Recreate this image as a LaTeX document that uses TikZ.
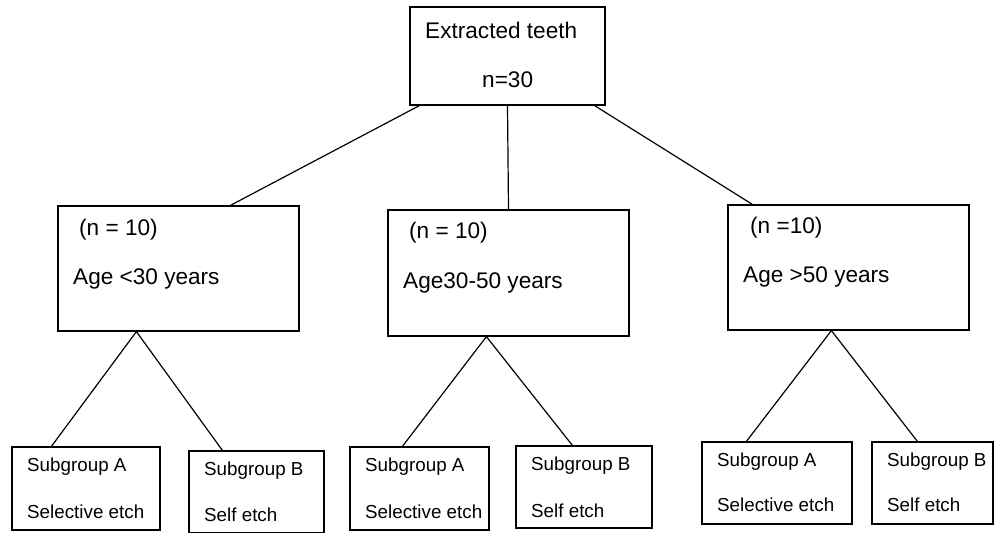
\documentclass[tikz,border=0pt]{standalone}
\usepackage{fontspec}
\setmainfont{Liberation Sans}

\begin{document}
\begin{tikzpicture}[x=1pt,y=-1pt]
	\useasboundingbox (0,0) rectangle (997,533);
	\tikzstyle{BoxStyle}=[draw,line width=1.2pt,inner sep=0pt]
	\tikzstyle{BigText}=[anchor=west,inner sep=0pt,font=\fontsize{22.6}{27}\selectfont]
	\tikzstyle{SmallText}=[anchor=west,inner sep=0pt,font=\fontsize{18.8}{22}\selectfont]
	\tikzstyle{EdgeStyle}=[line width=1.2pt]
	\node[BoxStyle,minimum width=195pt,minimum height=98pt] (Top) at (507.5,56) {};
	\node[BoxStyle,minimum width=241pt,minimum height=125pt] (L) at (178.5,268.5) {};
	\node[BoxStyle,minimum width=241pt,minimum height=126pt] (M) at (508.5,273) {};
	\node[BoxStyle,minimum width=241pt,minimum height=125pt] (R) at (848.5,267.5) {};
	\node[BoxStyle,minimum width=148pt,minimum height=83pt] (LA) at (86,488.5) {};
	\node[BoxStyle,minimum width=135pt,minimum height=82pt] (LB) at (256.5,492) {};
	\node[BoxStyle,minimum width=139pt,minimum height=83pt] (MA) at (419.5,488.5) {};
	\node[BoxStyle,minimum width=136pt,minimum height=82pt] (MB) at (584,487) {};
	\node[BoxStyle,minimum width=150pt,minimum height=82pt] (RA) at (777,483) {};
	\node[BoxStyle,minimum width=121pt,minimum height=82pt] (RB) at (932.5,483) {};
	\node[BigText] (Top1) at (425,30) {Extracted teeth};
	\node[BigText] (Top2) at (482,80) {n=30};
	\node[BigText] (L1) at (79,230) {(n = 10)};
	\node[BigText] (L2) at (73,279) {Age <30 years};
	\node[BigText] (M1) at (409,233) {(n = 10)};
	\node[BigText] (M2) at (403,283) {Age30-50 years};
	\node[BigText] (R1) at (750,228) {(n =10)};
	\node[BigText] (R2) at (743,277) {Age >50 years};
	\node[SmallText] (LA1) at (27,467) {Subgroup A};
	\node[SmallText] (LA2) at (27,512) {Selective etch};
	\node[SmallText] (LB1) at (204,471) {Subgroup B};
	\node[SmallText] (LB2) at (204,515) {Self etch};
	\node[SmallText] (MA1) at (365,467) {Subgroup A};
	\node[SmallText] (MA2) at (365,512) {Selective etch};
	\node[SmallText] (MB1) at (531,466) {Subgroup B};
	\node[SmallText] (MB2) at (531,511) {Self etch};
	\node[SmallText] (RA1) at (717,462) {Subgroup A};
	\node[SmallText] (RA2) at (717,505) {Selective etch};
	\node[SmallText] (RB1) at (887,462) {Subgroup B};
	\node[SmallText] (RB2) at (887,505) {Self etch};
	\draw[EdgeStyle] ([xshift=10pt]Top.south west) -- ([xshift=173pt]L.north west);
	\draw[EdgeStyle] (Top.south) -- (M.north);
	\draw[EdgeStyle] ([xshift=-11pt]Top.south east) -- ([xshift=25pt]R.north west);
	\draw[EdgeStyle] ([xshift=79pt]L.south west) -- ([xshift=40pt]LA.north west);
	\draw[EdgeStyle] ([xshift=79pt]L.south west) -- ([xshift=34pt]LB.north west);
	\draw[EdgeStyle] ([xshift=99pt]M.south west) -- ([xshift=53pt]MA.north west);
	\draw[EdgeStyle] ([xshift=99pt]M.south west) -- ([xshift=57pt]MB.north west);
	\draw[EdgeStyle] ([xshift=104pt]R.south west) -- ([xshift=45pt]RA.north west);
	\draw[EdgeStyle] ([xshift=104pt]R.south west) -- ([xshift=46pt]RB.north west);
\end{tikzpicture}
\end{document}
